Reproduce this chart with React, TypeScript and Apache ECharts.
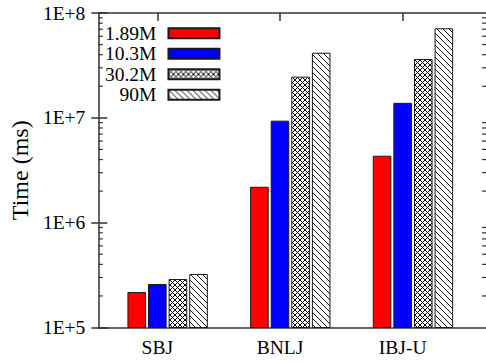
import React, { useEffect, useRef } from "react";
import * as echarts from "echarts";

const categories = ["SBJ", "BNLJ", "IBJ-U"];
const seriesNames = ["1.89M", "10.3M", "30.2M", "90M"];
const s189 = [2.18e5, 2.2e6, 4.35e6];
const s103 = [2.6e5, 9.4e6, 1.39e7];
const s302 = [2.9e5, 2.47e7, 3.64e7];
const s90 = [3.24e5, 4.18e7, 7.15e7];
const yTickLabels: Record<number, string> = { 5: "1E+5", 6: "1E+6", 7: "1E+7", 8: "1E+8" };
const minorTicks = [
  2e5, 3e5, 4e5, 5e5, 6e5, 7e5, 8e5, 9e5,
  2e6, 3e6, 4e6, 5e6, 6e6, 7e6, 8e6, 9e6,
  2e7, 3e7, 4e7, 5e7, 6e7, 7e7, 8e7, 9e7,
];

const FONT = '"Liberation Serif", "Times New Roman", serif';
const AXIS = "#333333";
const FS = 19.5;

function crossPattern() {
  const c = document.createElement("canvas");
  const n = 5;
  c.width = n;
  c.height = n;
  const g = c.getContext("2d")!;
  g.fillStyle = "#ffffff";
  g.fillRect(0, 0, n, n);
  g.strokeStyle = "#000000";
  g.lineWidth = 1;
  g.beginPath();
  g.moveTo(-1, -1); g.lineTo(n + 1, n + 1);
  g.moveTo(n + 1, -1); g.lineTo(-1, n + 1);
  g.stroke();
  return c;
}

function hatchPattern() {
  const c = document.createElement("canvas");
  const n = 6;
  c.width = n;
  c.height = n;
  const g = c.getContext("2d")!;
  g.fillStyle = "#ffffff";
  g.fillRect(0, 0, n, n);
  g.strokeStyle = "#111111";
  g.lineWidth = 1;
  g.beginPath();
  g.moveTo(-1, -1); g.lineTo(n + 1, n + 1);
  g.moveTo(-n - 1, -1); g.lineTo(1, n + 1);
  g.moveTo(-1, -n - 1); g.lineTo(n + 1, 1);
  g.stroke();
  return c;
}

export default function App() {
  const ref = useRef<HTMLDivElement>(null);
  useEffect(() => {
    if (!ref.current) return;
    const chart = echarts.init(ref.current, undefined, { renderer: "svg" });
    const cross = { image: crossPattern(), repeat: "repeat" } as any;
    const hatch = { image: hatchPattern(), repeat: "repeat" } as any;
    const fills: any[] = ["#ff0000", "#0000ff", cross, hatch];
    const datas = [s189, s103, s302, s90];
    const barWidth = 18.6;

    const yCommon = {
      type: "log",
      logBase: 10,
      min: 1e5,
      max: 1e8,
      splitLine: { show: false },
    };

    const option: any = {
      animation: false,
      backgroundColor: "#ffffff",
      textStyle: { fontFamily: FONT },
      grid: [
        { left: 96, width: 368, top: 13, height: 314.5, containLabel: false },
        { left: 96, right: 0, top: 13, height: 314.5, containLabel: false },
      ],
      legend: {
        data: seriesNames,
        orient: "vertical",
        align: "right",
        left: 105,
        top: 23,
        padding: 0,
        itemGap: 0,
        itemWidth: 51,
        itemHeight: 10,
        icon: "rect",
        selectedMode: false,
        textStyle: {
          fontFamily: FONT,
          fontSize: FS,
          color: "#000",
          lineHeight: 20.5,
          padding: [0, 7, 0, 0],
        },
      },
      xAxis: [
        {
          type: "category",
          gridIndex: 0,
          data: categories,
          position: "bottom",
          axisLine: { show: false },
          axisTick: { show: false },
          axisLabel: { fontFamily: FONT, fontSize: FS, color: "#000", margin: 10 },
        },
        {
          type: "category",
          gridIndex: 0,
          data: categories,
          position: "top",
          axisLine: { show: false },
          axisTick: { show: true, inside: true, length: 8, alignWithLabel: true, lineStyle: { color: AXIS, width: 1.5 } },
          axisLabel: { show: false },
        },
        {
          type: "value",
          gridIndex: 1,
          min: 0,
          max: 1,
          position: "bottom",
          axisLine: { show: true, lineStyle: { color: AXIS, width: 1.5 } },
          axisTick: { show: false },
          axisLabel: { show: false },
          splitLine: { show: false },
        },
        {
          type: "value",
          gridIndex: 1,
          min: 0,
          max: 1,
          position: "top",
          axisLine: { show: true, lineStyle: { color: AXIS, width: 1.5 } },
          axisTick: { show: false },
          axisLabel: { show: false },
          splitLine: { show: false },
        },
      ],
      yAxis: [
        {
          ...yCommon,
          gridIndex: 0,
          show: false,
        },
        {
          ...yCommon,
          gridIndex: 1,
          position: "left",
          name: "Time (ms)",
          nameLocation: "middle",
          nameGap: 59,
          nameTextStyle: { fontFamily: FONT, fontSize: 24, color: "#000" },
          axisLine: { show: true, lineStyle: { color: AXIS, width: 1.5 } },
          axisTick: { show: true, inside: true, length: 9, lineStyle: { color: AXIS, width: 1.5 } },
          axisLabel: {
            fontFamily: FONT,
            fontSize: FS,
            color: "#000",
            margin: 13,
            formatter: (v: number) => yTickLabels[Math.round(Math.log10(v))] ?? "",
          },
        },
        {
          ...yCommon,
          gridIndex: 1,
          position: "right",
          axisLine: { show: false },
          axisTick: { show: true, inside: true, length: 7, lineStyle: { color: AXIS, width: 1.5 } },
          axisLabel: { show: false },
        },
      ],
      series: [
        {
          type: "bar",
          name: "_pad",
          xAxisIndex: 0,
          yAxisIndex: 0,
          data: categories.map(() => null),
          barWidth,
          barGap: "10.75%",
          itemStyle: { color: "transparent" },
        },
        ...seriesNames.map((name, i) => ({
          type: "bar",
          name,
          xAxisIndex: 0,
          yAxisIndex: 0,
          data: datas[i],
          barWidth,
          barGap: "10.75%",
          clip: true,
          itemStyle: { color: fills[i], borderColor: "#1a1a1a", borderWidth: 1 },
        })),
        {
          type: "custom",
          xAxisIndex: 2,
          yAxisIndex: 1,
          silent: true,
          data: minorTicks.map((v) => [0, v]),
          encode: { x: 0, y: 1 },
          renderItem: (params: any, api: any) => {
            const v = api.value(1);
            const pL = api.coord([0, v]);
            const pR = api.coord([1, v]);
            return {
              type: "group",
              children: [
                { type: "line", shape: { x1: pL[0], y1: pL[1], x2: pL[0] + 4.5, y2: pL[1] }, style: { stroke: AXIS, lineWidth: 1.2 } },
                { type: "line", shape: { x1: pR[0] - 4, y1: pR[1], x2: pR[0], y2: pR[1] }, style: { stroke: AXIS, lineWidth: 1.2 } },
              ],
            };
          },
        },
      ],
    };
    chart.setOption(option);
    return () => chart.dispose();
  }, []);
  return (
    <div
      ref={ref}
      style={{ position: "fixed", left: 0, top: 0, width: 486, height: 362, background: "#fff" }}
    />
  );
}
